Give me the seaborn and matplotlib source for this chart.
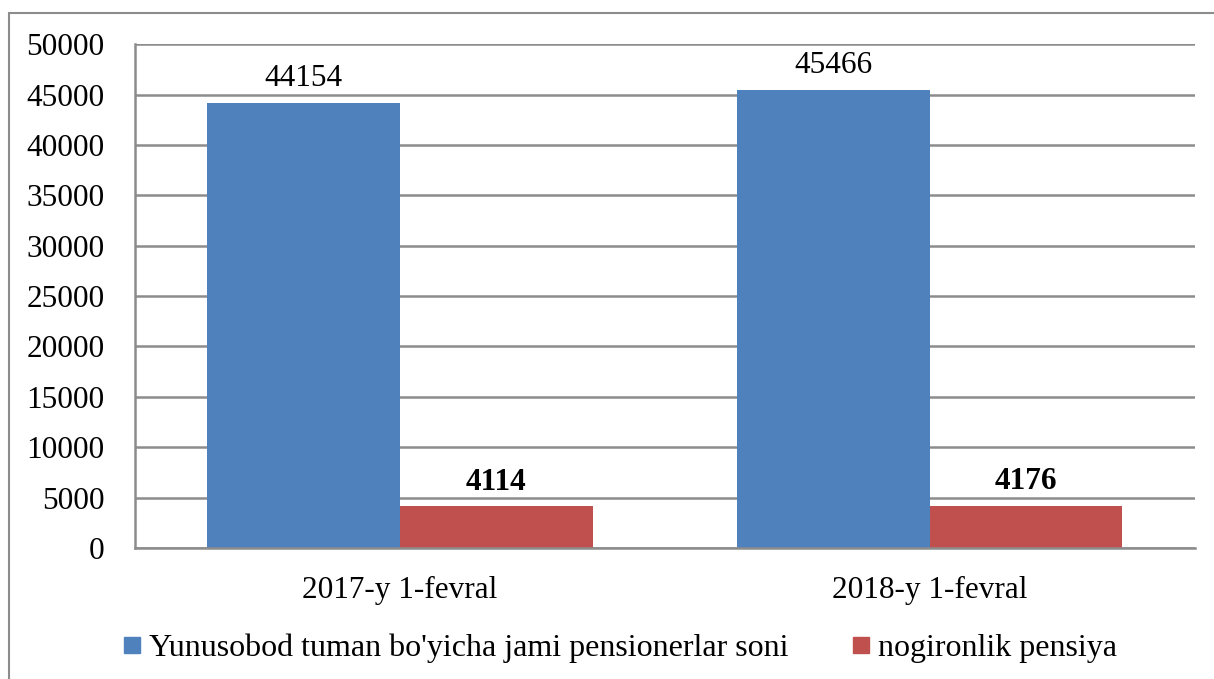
import pandas as pd
import matplotlib.pyplot as plt
import seaborn as sns
from matplotlib.lines import Line2D

# Ma'lumotlar
dates = ['2017-y 1-fevral', '2018-y 1-fevral']
series_names = ["Yunusobod tuman bo'yicha jami pensionerlar soni", 'nogironlik pensiya']
jami = [44154, 45466]
nogironlik = [4114, 4176]
colors = ['#4F81BD', '#C0504D']

df = pd.DataFrame({
    'sana': dates * 2,
    'seriya': [series_names[0]] * 2 + [series_names[1]] * 2,
    'qiymat': jami + nogironlik,
})

sns.set_style('white')
plt.rcParams['font.family'] = ['Liberation Serif', 'DejaVu Serif']
plt.rcParams['text.color'] = 'black'
plt.rcParams['xtick.color'] = 'black'
plt.rcParams['ytick.color'] = 'black'
FS = 22.5

fig = plt.figure(figsize=(12.14, 6.79), dpi=100)
ax = fig.add_axes([0.1112, 0.193, 0.873, 0.742])

sns.barplot(data=df, x='sana', y='qiymat', hue='seriya', palette=colors,
            width=0.727, gap=0, saturation=1, linewidth=0, ax=ax, legend=False)

ax.set_xlim(-0.5, 1.5)
ax.set_ylim(0, 50000)
ax.set_yticks(range(0, 50001, 5000))
ax.yaxis.grid(True, color='#8C8C8C', linewidth=1.8)
ax.set_axisbelow(True)
ax.set_xlabel('')
ax.set_ylabel('')
ax.tick_params(axis='both', labelsize=FS, length=0, labelcolor='black')
ax.tick_params(axis='x', pad=20)
ax.tick_params(axis='y', pad=22)
for s in ['top', 'right']:
    ax.spines[s].set_visible(False)
for s in ['left', 'bottom']:
    ax.spines[s].set_color('#8C8C8C')
    ax.spines[s].set_linewidth(1.8)

ax.bar_label(ax.containers[0], fmt='%d', padding=7, fontsize=FS, color='black')
ax.bar_label(ax.containers[1], fmt='%d', padding=7, fontsize=FS, fontweight='bold', color='black')

handles = [Line2D([], [], marker='s', linestyle='', markersize=11.5, color=c) for c in colors]
fig.legend(handles, series_names, loc='center', bbox_to_anchor=(0.511, 0.045), ncol=2,
           frameon=False, fontsize=23, handlelength=0.5, handletextpad=0.3,
           columnspacing=2.0, labelcolor='black')

# ramka
fig.add_artist(Line2D([9 / 1214, 1], [1 - 13 / 679] * 2, transform=fig.transFigure,
                      color='#8C8C8C', linewidth=1.5))
fig.add_artist(Line2D([9 / 1214] * 2, [0, 1 - 13 / 679], transform=fig.transFigure,
                      color='#8C8C8C', linewidth=1.5))

fig.savefig('out.png', dpi=100)
